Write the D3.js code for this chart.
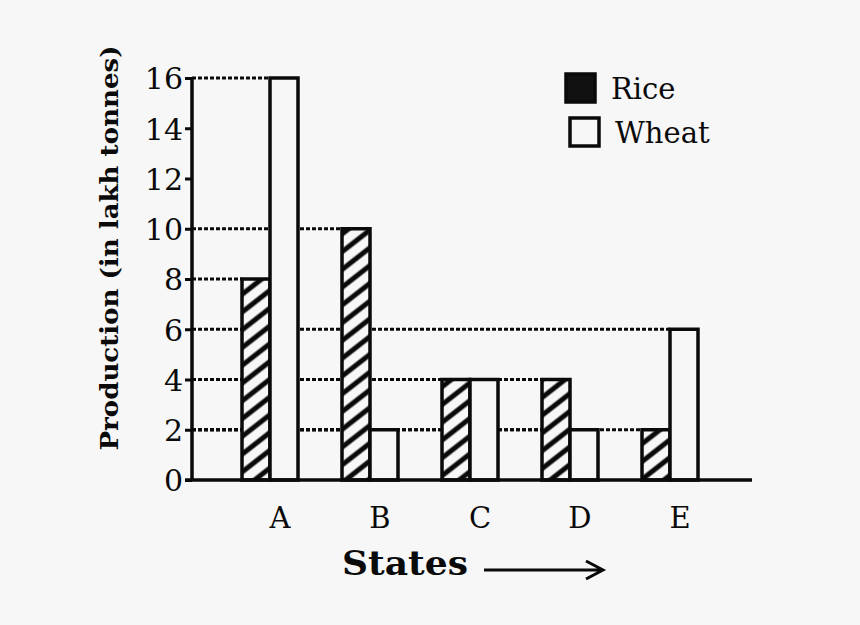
<!DOCTYPE html>
<html>
<head>
<meta charset="utf-8">
<script src="https://cdn.jsdelivr.net/npm/d3@7"></script>
<style>
  body { margin: 0; background: #f7f7f7; }
  svg { display: block; }
</style>
</head>
<body>
<script>
// data
var states = ["A", "B", "C", "D", "E"];
var rice = [8, 10, 4, 4, 2];
var wheat = [16, 2, 4, 2, 6];
var yTicks = [0, 2, 4, 6, 8, 10, 12, 14, 16];
var seriesNames = ["Rice", "Wheat"];

var W = 860, H = 625;
var bg = "#f7f7f7", ink = "#0a0a0a";
var serif = "'DejaVu Serif', 'Liberation Serif', serif";

var svg = d3.select("body").append("svg")
  .attr("width", W)
  .attr("height", H);

svg.append("rect").attr("width", W).attr("height", H).attr("fill", bg);

var defs = svg.append("defs");
defs.append("pattern")
  .attr("id", "hatch")
  .attr("patternUnits", "userSpaceOnUse")
  .attr("width", 14).attr("height", 14)
  .attr("patternTransform", "rotate(52)")
  .call(p => {
    p.append("rect").attr("width", 14).attr("height", 14).attr("fill", bg);
    p.append("line").attr("x1", 3).attr("y1", 0).attr("x2", 3).attr("y2", 14)
      .attr("stroke", ink).attr("stroke-width", 5);
  });

var axisX = 192, axisEnd = 752;
var x = d3.scaleBand().domain(states).range([220, 720])
  .paddingInner(0.44).paddingOuter(0.22);
var xs = d3.scaleBand().domain(seriesNames).range([0, x.bandwidth()]);
var y = d3.scaleLinear().domain([0, 16]).range([480, 78]);

var bars = [];
states.forEach((s, i) => {
  bars.push({ state: s, series: "Rice", value: rice[i] });
  bars.push({ state: s, series: "Wheat", value: wheat[i] });
});

// dotted guides from axis to each bar top
svg.append("g").selectAll("line")
  .data(bars)
  .join("line")
  .attr("x1", axisX)
  .attr("x2", d => x(d.state) + xs(d.series))
  .attr("y1", d => y(d.value))
  .attr("y2", d => y(d.value))
  .attr("stroke", ink)
  .attr("stroke-width", 3)
  .attr("stroke-dasharray", "4,2");

// bars
svg.append("g").selectAll("rect")
  .data(bars)
  .join("rect")
  .attr("x", d => x(d.state) + xs(d.series))
  .attr("width", xs.bandwidth())
  .attr("y", d => y(d.value))
  .attr("height", d => y(0) - y(d.value))
  .attr("fill", d => d.series === "Rice" ? "url(#hatch)" : bg)
  .attr("stroke", ink)
  .attr("stroke-width", 3.5);

// y axis
var yAxis = svg.append("g")
  .attr("transform", `translate(${axisX},0)`)
  .call(d3.axisLeft(y).tickValues(yTicks).tickSize(7).tickPadding(2));
yAxis.select(".domain").attr("stroke", ink).attr("stroke-width", 3.5)
  .attr("d", `M0,${y(16)}V${y(0)}`);
yAxis.selectAll(".tick line").attr("stroke", ink).attr("stroke-width", 3);
yAxis.selectAll(".tick text")
  .attr("fill", ink)
  .attr("font-family", serif)
  .attr("font-size", 30)
  .attr("dy", "0.36em");

// x axis line
svg.append("line")
  .attr("x1", axisX - 7).attr("x2", axisEnd)
  .attr("y1", y(0)).attr("y2", y(0))
  .attr("stroke", ink).attr("stroke-width", 3.5);

// x labels
svg.append("g").selectAll("text")
  .data(states)
  .join("text")
  .attr("x", d => x(d) + x.bandwidth() / 2 + 10)
  .attr("y", 528)
  .attr("text-anchor", "middle")
  .attr("font-family", serif)
  .attr("font-size", 29)
  .attr("fill", ink)
  .text(d => d);

// axis titles
svg.append("text")
  .attr("transform", "translate(118,248) rotate(-90)")
  .attr("text-anchor", "middle")
  .attr("font-family", serif)
  .attr("font-weight", "bold")
  .attr("font-size", 25)
  .attr("textLength", 405)
  .attr("lengthAdjust", "spacingAndGlyphs")
  .attr("fill", ink)
  .text("Production (in lakh tonnes)");

svg.append("text")
  .attr("x", 342).attr("y", 575)
  .attr("font-family", serif)
  .attr("font-weight", "bold")
  .attr("font-size", 33)
  .attr("textLength", 126)
  .attr("lengthAdjust", "spacingAndGlyphs")
  .attr("fill", ink)
  .text("States");

svg.append("path")
  .attr("d", "M484,570H600M586,561L603,570L586,579")
  .attr("fill", "none")
  .attr("stroke", ink)
  .attr("stroke-width", 3);

// legend
var legend = svg.append("g").selectAll("g")
  .data(seriesNames)
  .join("g")
  .attr("transform", (d, i) => `translate(${566 + i * 4},${74 + i * 44})`);
legend.append("rect")
  .attr("width", 29).attr("height", 28)
  .attr("fill", d => d === "Rice" ? "#111" : bg)
  .attr("stroke", ink).attr("stroke-width", 3.5);
legend.append("text")
  .attr("x", 45).attr("y", 25)
  .attr("font-family", serif)
  .attr("font-size", 29)
  .attr("fill", ink)
  .text(d => d);
</script>
</body>
</html>
